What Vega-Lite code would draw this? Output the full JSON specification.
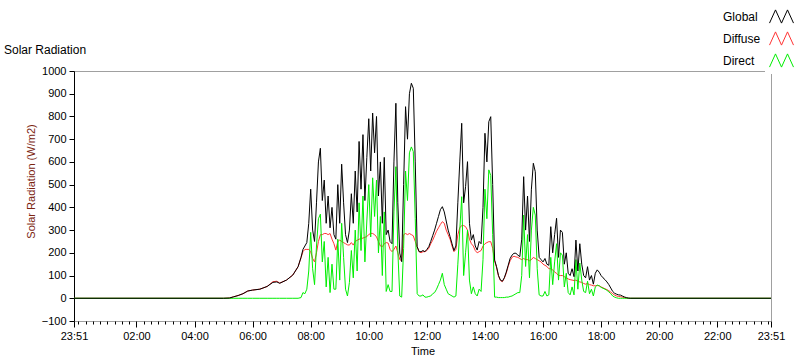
{
  "$schema": "https://vega.github.io/schema/vega-lite/v6.json",
  "width": 697,
  "height": 250,
  "autosize": {"type": "none"},
  "padding": {"left": 74, "top": 71, "right": 29, "bottom": 40},
  "background": "white",
  "title": {"text": "Solar Radiation", "anchor": "start", "frame": "group", "dx": -70, "dy": 78, "offset": 12, "baseline": "alphabetic", "fontSize": 12, "fontWeight": "normal", "font": "Liberation Sans", "color": "#000000"},
  "config": {
    "font": "Liberation Sans",
    "view": {"stroke": "#a0a0a0", "strokeWidth": 1},
    "axis": {"grid": false, "labelFont": "Liberation Sans", "labelFontSize": 11, "labelColor": "#000000", "tickColor": "#000000", "domainColor": "#000000", "titleFont": "Liberation Sans", "titleFontSize": 11, "titleFontWeight": "normal"}
  },
  "data": {
    "format": {"parse": {"t": "date:'%d %H:%M'"}},
    "values": [
      {"t":"1 23:51","Global":0,"Diffuse":0,"Direct":0},
      {"t":"2 05:00","Global":0,"Diffuse":0,"Direct":0},
      {"t":"2 05:12","Global":1,"Diffuse":1,"Direct":0},
      {"t":"2 05:20","Global":6,"Diffuse":6,"Direct":0},
      {"t":"2 05:30","Global":12,"Diffuse":12,"Direct":0},
      {"t":"2 05:40","Global":20,"Diffuse":20,"Direct":0},
      {"t":"2 05:50","Global":32,"Diffuse":32,"Direct":0},
      {"t":"2 06:00","Global":36,"Diffuse":36,"Direct":0},
      {"t":"2 06:15","Global":40,"Diffuse":40,"Direct":0},
      {"t":"2 06:30","Global":52,"Diffuse":52,"Direct":0},
      {"t":"2 06:42","Global":70,"Diffuse":73,"Direct":0},
      {"t":"2 06:50","Global":72,"Diffuse":75,"Direct":0},
      {"t":"2 06:56","Global":66,"Diffuse":67,"Direct":0},
      {"t":"2 07:10","Global":80,"Diffuse":80,"Direct":0},
      {"t":"2 07:23","Global":102,"Diffuse":102,"Direct":0},
      {"t":"2 07:34","Global":139,"Diffuse":139,"Direct":0},
      {"t":"2 07:40","Global":180,"Diffuse":178,"Direct":3},
      {"t":"2 07:44","Global":215,"Diffuse":205,"Direct":25},
      {"t":"2 07:48","Global":230,"Diffuse":215,"Direct":20},
      {"t":"2 07:52","Global":245,"Diffuse":215,"Direct":40},
      {"t":"2 07:56","Global":330,"Diffuse":215,"Direct":120},
      {"t":"2 08:00","Global":480,"Diffuse":205,"Direct":290},
      {"t":"2 08:04","Global":300,"Diffuse":175,"Direct":130},
      {"t":"2 08:08","Global":250,"Diffuse":160,"Direct":60},
      {"t":"2 08:12","Global":420,"Diffuse":200,"Direct":230},
      {"t":"2 08:16","Global":600,"Diffuse":250,"Direct":350},
      {"t":"2 08:20","Global":660,"Diffuse":280,"Direct":370},
      {"t":"2 08:24","Global":430,"Diffuse":280,"Direct":160},
      {"t":"2 08:28","Global":520,"Diffuse":285,"Direct":250},
      {"t":"2 08:32","Global":330,"Diffuse":285,"Direct":50},
      {"t":"2 08:36","Global":450,"Diffuse":280,"Direct":180},
      {"t":"2 08:40","Global":310,"Diffuse":285,"Direct":25},
      {"t":"2 08:44","Global":400,"Diffuse":260,"Direct":150},
      {"t":"2 08:48","Global":280,"Diffuse":240,"Direct":40},
      {"t":"2 08:52","Global":260,"Diffuse":212,"Direct":40},
      {"t":"2 08:56","Global":500,"Diffuse":250,"Direct":260},
      {"t":"2 09:00","Global":330,"Diffuse":256,"Direct":80},
      {"t":"2 09:04","Global":590,"Diffuse":250,"Direct":330},
      {"t":"2 09:08","Global":420,"Diffuse":245,"Direct":180},
      {"t":"2 09:12","Global":280,"Diffuse":240,"Direct":40},
      {"t":"2 09:16","Global":245,"Diffuse":235,"Direct":10},
      {"t":"2 09:20","Global":300,"Diffuse":234,"Direct":70},
      {"t":"2 09:24","Global":460,"Diffuse":245,"Direct":210},
      {"t":"2 09:28","Global":330,"Diffuse":234,"Direct":90},
      {"t":"2 09:32","Global":560,"Diffuse":250,"Direct":300},
      {"t":"2 09:36","Global":380,"Diffuse":255,"Direct":120},
      {"t":"2 09:40","Global":690,"Diffuse":260,"Direct":420},
      {"t":"2 09:44","Global":480,"Diffuse":262,"Direct":210},
      {"t":"2 09:48","Global":720,"Diffuse":265,"Direct":450},
      {"t":"2 09:52","Global":430,"Diffuse":268,"Direct":160},
      {"t":"2 09:56","Global":620,"Diffuse":272,"Direct":340},
      {"t":"2 10:00","Global":790,"Diffuse":280,"Direct":500},
      {"t":"2 10:04","Global":560,"Diffuse":286,"Direct":270},
      {"t":"2 10:08","Global":815,"Diffuse":285,"Direct":530},
      {"t":"2 10:12","Global":640,"Diffuse":280,"Direct":360},
      {"t":"2 10:16","Global":800,"Diffuse":270,"Direct":520},
      {"t":"2 10:20","Global":450,"Diffuse":250,"Direct":200},
      {"t":"2 10:24","Global":600,"Diffuse":230,"Direct":360},
      {"t":"2 10:28","Global":330,"Diffuse":227,"Direct":100},
      {"t":"2 10:32","Global":620,"Diffuse":240,"Direct":380},
      {"t":"2 10:36","Global":280,"Diffuse":245,"Direct":30},
      {"t":"2 10:40","Global":300,"Diffuse":243,"Direct":60},
      {"t":"2 10:44","Global":250,"Diffuse":215,"Direct":30},
      {"t":"2 10:48","Global":240,"Diffuse":205,"Direct":30},
      {"t":"2 10:52","Global":600,"Diffuse":215,"Direct":380},
      {"t":"2 10:56","Global":858,"Diffuse":230,"Direct":579},
      {"t":"2 11:00","Global":420,"Diffuse":200,"Direct":210},
      {"t":"2 11:04","Global":199,"Diffuse":170,"Direct":10},
      {"t":"2 11:08","Global":161,"Diffuse":165,"Direct":5},
      {"t":"2 11:12","Global":500,"Diffuse":280,"Direct":220},
      {"t":"2 11:16","Global":843,"Diffuse":285,"Direct":560},
      {"t":"2 11:20","Global":700,"Diffuse":280,"Direct":430},
      {"t":"2 11:24","Global":900,"Diffuse":285,"Direct":640},
      {"t":"2 11:28","Global":946,"Diffuse":280,"Direct":666},
      {"t":"2 11:32","Global":924,"Diffuse":275,"Direct":645},
      {"t":"2 11:36","Global":600,"Diffuse":250,"Direct":350},
      {"t":"2 11:40","Global":227,"Diffuse":225,"Direct":20},
      {"t":"2 11:44","Global":205,"Diffuse":205,"Direct":10},
      {"t":"2 11:48","Global":205,"Diffuse":200,"Direct":10},
      {"t":"2 11:52","Global":210,"Diffuse":205,"Direct":15},
      {"t":"2 11:56","Global":205,"Diffuse":205,"Direct":5},
      {"t":"2 12:00","Global":215,"Diffuse":210,"Direct":5},
      {"t":"2 12:04","Global":227,"Diffuse":220,"Direct":8},
      {"t":"2 12:08","Global":250,"Diffuse":240,"Direct":10},
      {"t":"2 12:12","Global":275,"Diffuse":255,"Direct":20},
      {"t":"2 12:16","Global":300,"Diffuse":275,"Direct":25},
      {"t":"2 12:20","Global":330,"Diffuse":295,"Direct":40},
      {"t":"2 12:24","Global":360,"Diffuse":310,"Direct":60},
      {"t":"2 12:28","Global":390,"Diffuse":325,"Direct":80},
      {"t":"2 12:32","Global":403,"Diffuse":337,"Direct":110},
      {"t":"2 12:36","Global":380,"Diffuse":330,"Direct":60},
      {"t":"2 12:40","Global":340,"Diffuse":300,"Direct":40},
      {"t":"2 12:44","Global":300,"Diffuse":280,"Direct":20},
      {"t":"2 12:48","Global":271,"Diffuse":260,"Direct":15},
      {"t":"2 12:52","Global":240,"Diffuse":230,"Direct":10},
      {"t":"2 12:56","Global":210,"Diffuse":205,"Direct":5},
      {"t":"2 13:00","Global":230,"Diffuse":215,"Direct":10},
      {"t":"2 13:04","Global":420,"Diffuse":280,"Direct":150},
      {"t":"2 13:08","Global":600,"Diffuse":310,"Direct":300},
      {"t":"2 13:12","Global":770,"Diffuse":320,"Direct":447},
      {"t":"2 13:16","Global":420,"Diffuse":320,"Direct":100},
      {"t":"2 13:20","Global":491,"Diffuse":315,"Direct":200},
      {"t":"2 13:24","Global":601,"Diffuse":300,"Direct":300},
      {"t":"2 13:28","Global":330,"Diffuse":260,"Direct":80},
      {"t":"2 13:32","Global":256,"Diffuse":240,"Direct":20},
      {"t":"2 13:36","Global":280,"Diffuse":230,"Direct":50},
      {"t":"2 13:40","Global":230,"Diffuse":210,"Direct":20},
      {"t":"2 13:44","Global":212,"Diffuse":200,"Direct":10},
      {"t":"2 13:48","Global":250,"Diffuse":205,"Direct":40},
      {"t":"2 13:52","Global":240,"Diffuse":210,"Direct":30},
      {"t":"2 13:56","Global":400,"Diffuse":230,"Direct":170},
      {"t":"2 14:00","Global":726,"Diffuse":240,"Direct":480},
      {"t":"2 14:04","Global":600,"Diffuse":245,"Direct":350},
      {"t":"2 14:08","Global":777,"Diffuse":249,"Direct":565},
      {"t":"2 14:12","Global":799,"Diffuse":249,"Direct":540},
      {"t":"2 14:16","Global":500,"Diffuse":220,"Direct":280},
      {"t":"2 14:20","Global":168,"Diffuse":165,"Direct":5},
      {"t":"2 14:24","Global":139,"Diffuse":135,"Direct":5},
      {"t":"2 14:28","Global":100,"Diffuse":98,"Direct":3},
      {"t":"2 14:32","Global":80,"Diffuse":78,"Direct":3},
      {"t":"2 14:36","Global":75,"Diffuse":73,"Direct":3},
      {"t":"2 14:40","Global":90,"Diffuse":88,"Direct":3},
      {"t":"2 14:44","Global":115,"Diffuse":110,"Direct":5},
      {"t":"2 14:48","Global":145,"Diffuse":140,"Direct":5},
      {"t":"2 14:52","Global":175,"Diffuse":165,"Direct":8},
      {"t":"2 14:56","Global":190,"Diffuse":180,"Direct":10},
      {"t":"2 15:00","Global":198,"Diffuse":185,"Direct":15},
      {"t":"2 15:04","Global":198,"Diffuse":182,"Direct":20},
      {"t":"2 15:08","Global":190,"Diffuse":180,"Direct":25},
      {"t":"2 15:12","Global":183,"Diffuse":175,"Direct":25},
      {"t":"2 15:16","Global":260,"Diffuse":170,"Direct":100},
      {"t":"2 15:20","Global":535,"Diffuse":175,"Direct":366},
      {"t":"2 15:24","Global":300,"Diffuse":170,"Direct":140},
      {"t":"2 15:28","Global":450,"Diffuse":170,"Direct":280},
      {"t":"2 15:32","Global":250,"Diffuse":165,"Direct":90},
      {"t":"2 15:36","Global":480,"Diffuse":170,"Direct":300},
      {"t":"2 15:40","Global":594,"Diffuse":180,"Direct":400},
      {"t":"2 15:44","Global":557,"Diffuse":175,"Direct":366},
      {"t":"2 15:48","Global":300,"Diffuse":170,"Direct":130},
      {"t":"2 15:52","Global":180,"Diffuse":165,"Direct":15},
      {"t":"2 15:56","Global":170,"Diffuse":160,"Direct":10},
      {"t":"2 16:00","Global":160,"Diffuse":150,"Direct":10},
      {"t":"2 16:04","Global":175,"Diffuse":145,"Direct":30},
      {"t":"2 16:08","Global":150,"Diffuse":140,"Direct":10},
      {"t":"2 16:12","Global":145,"Diffuse":130,"Direct":15},
      {"t":"2 16:16","Global":315,"Diffuse":130,"Direct":180},
      {"t":"2 16:20","Global":200,"Diffuse":125,"Direct":60},
      {"t":"2 16:24","Global":280,"Diffuse":115,"Direct":160},
      {"t":"2 16:28","Global":352,"Diffuse":110,"Direct":240},
      {"t":"2 16:32","Global":180,"Diffuse":100,"Direct":80},
      {"t":"2 16:36","Global":300,"Diffuse":100,"Direct":200},
      {"t":"2 16:40","Global":290,"Diffuse":100,"Direct":190},
      {"t":"2 16:44","Global":150,"Diffuse":95,"Direct":50},
      {"t":"2 16:48","Global":200,"Diffuse":90,"Direct":110},
      {"t":"2 16:52","Global":110,"Diffuse":85,"Direct":25},
      {"t":"2 16:56","Global":100,"Diffuse":82,"Direct":15},
      {"t":"2 17:00","Global":130,"Diffuse":80,"Direct":50},
      {"t":"2 17:04","Global":95,"Diffuse":78,"Direct":15},
      {"t":"2 17:08","Global":256,"Diffuse":80,"Direct":170},
      {"t":"2 17:12","Global":120,"Diffuse":75,"Direct":40},
      {"t":"2 17:16","Global":240,"Diffuse":72,"Direct":155},
      {"t":"2 17:20","Global":150,"Diffuse":70,"Direct":80},
      {"t":"2 17:24","Global":100,"Diffuse":65,"Direct":30},
      {"t":"2 17:28","Global":90,"Diffuse":62,"Direct":25},
      {"t":"2 17:32","Global":139,"Diffuse":65,"Direct":75},
      {"t":"2 17:36","Global":80,"Diffuse":60,"Direct":20},
      {"t":"2 17:40","Global":100,"Diffuse":58,"Direct":40},
      {"t":"2 17:44","Global":62,"Diffuse":55,"Direct":10},
      {"t":"2 17:48","Global":110,"Diffuse":55,"Direct":50},
      {"t":"2 17:52","Global":125,"Diffuse":56,"Direct":58},
      {"t":"2 17:56","Global":115,"Diffuse":55,"Direct":55},
      {"t":"2 18:00","Global":100,"Diffuse":50,"Direct":48},
      {"t":"2 18:04","Global":90,"Diffuse":46,"Direct":44},
      {"t":"2 18:08","Global":82,"Diffuse":42,"Direct":40},
      {"t":"2 18:12","Global":72,"Diffuse":38,"Direct":35},
      {"t":"2 18:16","Global":60,"Diffuse":33,"Direct":28},
      {"t":"2 18:20","Global":45,"Diffuse":27,"Direct":20},
      {"t":"2 18:24","Global":30,"Diffuse":20,"Direct":10},
      {"t":"2 18:28","Global":22,"Diffuse":14,"Direct":5},
      {"t":"2 18:32","Global":18,"Diffuse":10,"Direct":2},
      {"t":"2 18:36","Global":15,"Diffuse":8,"Direct":0},
      {"t":"2 18:40","Global":14,"Diffuse":7,"Direct":0},
      {"t":"2 18:44","Global":10,"Diffuse":5,"Direct":0},
      {"t":"2 18:48","Global":6,"Diffuse":3,"Direct":0},
      {"t":"2 18:52","Global":3,"Diffuse":1,"Direct":0},
      {"t":"2 18:56","Global":1,"Diffuse":0,"Direct":0},
      {"t":"2 19:00","Global":0,"Diffuse":0,"Direct":0},
      {"t":"2 23:51","Global":0,"Diffuse":0,"Direct":0}
    ]
  },
  "transform": [{"fold": ["Global", "Diffuse", "Direct"], "as": ["series", "value"]}],
  "encoding": {
    "x": {"field": "t", "type": "temporal",
      "scale": {"domain": [{"year":1900,"month":1,"date":1,"hours":23,"minutes":51},{"year":1900,"month":1,"date":2,"hours":23,"minutes":51}], "nice": false},
      "axis": {"orient": "bottom", "domain": false, "labelPadding": 3, "labelFlush": false, "labelOverlap": false,
        "labelExpr": "(minutes(datum.value) == 51 || (minutes(datum.value) == 0 && hours(datum.value) % 2 == 0 && hours(datum.value) > 0)) ? timeFormat(datum.value, '%H:%M') : ''",
        "tickSize": {"condition": {"test": "minutes(datum.value) == 51 || (minutes(datum.value) == 0 && hours(datum.value) % 2 == 0 && hours(datum.value) > 0)", "value": 6}, "value": 3},
        "title": "Time", "titlePadding": 4,
        "values": [
          {"year":1900,"date":1,"hours":23,"minutes":51},
          {"year":1900,"date":2,"hours":0,"minutes":0},{"year":1900,"date":2,"hours":0,"minutes":15},{"year":1900,"date":2,"hours":0,"minutes":30},{"year":1900,"date":2,"hours":0,"minutes":45},
          {"year":1900,"date":2,"hours":1,"minutes":0},{"year":1900,"date":2,"hours":1,"minutes":15},{"year":1900,"date":2,"hours":1,"minutes":30},{"year":1900,"date":2,"hours":1,"minutes":45},
          {"year":1900,"date":2,"hours":2,"minutes":0},{"year":1900,"date":2,"hours":2,"minutes":15},{"year":1900,"date":2,"hours":2,"minutes":30},{"year":1900,"date":2,"hours":2,"minutes":45},
          {"year":1900,"date":2,"hours":3,"minutes":0},{"year":1900,"date":2,"hours":3,"minutes":15},{"year":1900,"date":2,"hours":3,"minutes":30},{"year":1900,"date":2,"hours":3,"minutes":45},
          {"year":1900,"date":2,"hours":4,"minutes":0},{"year":1900,"date":2,"hours":4,"minutes":15},{"year":1900,"date":2,"hours":4,"minutes":30},{"year":1900,"date":2,"hours":4,"minutes":45},
          {"year":1900,"date":2,"hours":5,"minutes":0},{"year":1900,"date":2,"hours":5,"minutes":15},{"year":1900,"date":2,"hours":5,"minutes":30},{"year":1900,"date":2,"hours":5,"minutes":45},
          {"year":1900,"date":2,"hours":6,"minutes":0},{"year":1900,"date":2,"hours":6,"minutes":15},{"year":1900,"date":2,"hours":6,"minutes":30},{"year":1900,"date":2,"hours":6,"minutes":45},
          {"year":1900,"date":2,"hours":7,"minutes":0},{"year":1900,"date":2,"hours":7,"minutes":15},{"year":1900,"date":2,"hours":7,"minutes":30},{"year":1900,"date":2,"hours":7,"minutes":45},
          {"year":1900,"date":2,"hours":8,"minutes":0},{"year":1900,"date":2,"hours":8,"minutes":15},{"year":1900,"date":2,"hours":8,"minutes":30},{"year":1900,"date":2,"hours":8,"minutes":45},
          {"year":1900,"date":2,"hours":9,"minutes":0},{"year":1900,"date":2,"hours":9,"minutes":15},{"year":1900,"date":2,"hours":9,"minutes":30},{"year":1900,"date":2,"hours":9,"minutes":45},
          {"year":1900,"date":2,"hours":10,"minutes":0},{"year":1900,"date":2,"hours":10,"minutes":15},{"year":1900,"date":2,"hours":10,"minutes":30},{"year":1900,"date":2,"hours":10,"minutes":45},
          {"year":1900,"date":2,"hours":11,"minutes":0},{"year":1900,"date":2,"hours":11,"minutes":15},{"year":1900,"date":2,"hours":11,"minutes":30},{"year":1900,"date":2,"hours":11,"minutes":45},
          {"year":1900,"date":2,"hours":12,"minutes":0},{"year":1900,"date":2,"hours":12,"minutes":15},{"year":1900,"date":2,"hours":12,"minutes":30},{"year":1900,"date":2,"hours":12,"minutes":45},
          {"year":1900,"date":2,"hours":13,"minutes":0},{"year":1900,"date":2,"hours":13,"minutes":15},{"year":1900,"date":2,"hours":13,"minutes":30},{"year":1900,"date":2,"hours":13,"minutes":45},
          {"year":1900,"date":2,"hours":14,"minutes":0},{"year":1900,"date":2,"hours":14,"minutes":15},{"year":1900,"date":2,"hours":14,"minutes":30},{"year":1900,"date":2,"hours":14,"minutes":45},
          {"year":1900,"date":2,"hours":15,"minutes":0},{"year":1900,"date":2,"hours":15,"minutes":15},{"year":1900,"date":2,"hours":15,"minutes":30},{"year":1900,"date":2,"hours":15,"minutes":45},
          {"year":1900,"date":2,"hours":16,"minutes":0},{"year":1900,"date":2,"hours":16,"minutes":15},{"year":1900,"date":2,"hours":16,"minutes":30},{"year":1900,"date":2,"hours":16,"minutes":45},
          {"year":1900,"date":2,"hours":17,"minutes":0},{"year":1900,"date":2,"hours":17,"minutes":15},{"year":1900,"date":2,"hours":17,"minutes":30},{"year":1900,"date":2,"hours":17,"minutes":45},
          {"year":1900,"date":2,"hours":18,"minutes":0},{"year":1900,"date":2,"hours":18,"minutes":15},{"year":1900,"date":2,"hours":18,"minutes":30},{"year":1900,"date":2,"hours":18,"minutes":45},
          {"year":1900,"date":2,"hours":19,"minutes":0},{"year":1900,"date":2,"hours":19,"minutes":15},{"year":1900,"date":2,"hours":19,"minutes":30},{"year":1900,"date":2,"hours":19,"minutes":45},
          {"year":1900,"date":2,"hours":20,"minutes":0},{"year":1900,"date":2,"hours":20,"minutes":15},{"year":1900,"date":2,"hours":20,"minutes":30},{"year":1900,"date":2,"hours":20,"minutes":45},
          {"year":1900,"date":2,"hours":21,"minutes":0},{"year":1900,"date":2,"hours":21,"minutes":15},{"year":1900,"date":2,"hours":21,"minutes":30},{"year":1900,"date":2,"hours":21,"minutes":45},
          {"year":1900,"date":2,"hours":22,"minutes":0},{"year":1900,"date":2,"hours":22,"minutes":15},{"year":1900,"date":2,"hours":22,"minutes":30},{"year":1900,"date":2,"hours":22,"minutes":45},
          {"year":1900,"date":2,"hours":23,"minutes":0},{"year":1900,"date":2,"hours":23,"minutes":15},{"year":1900,"date":2,"hours":23,"minutes":30},{"year":1900,"date":2,"hours":23,"minutes":45},
          {"year":1900,"date":2,"hours":23,"minutes":51}
        ]}},
    "y": {"field": "value", "type": "quantitative",
      "scale": {"domain": [-100, 1000], "nice": false, "zero": false},
      "axis": {"values": [-100,0,100,200,300,400,500,600,700,800,900,1000], "format": "d", "labelOverlap": false, "labelFlush": false, "tickSize": 5, "labelPadding": 3, "title": "Solar Radiation (W/m2)", "titleColor": "#7b2410", "titleX": -43, "titleY": 110, "titleAngle": -90, "titleAlign": "center", "titleBaseline": "middle"}},
    "color": {"field": "series", "type": "nominal",
      "scale": {"domain": ["Global", "Diffuse", "Direct"], "range": ["#000000", "#ff3333", "#00ee00"]},
      "legend": {"orient": "none", "legendX": 691, "legendY": -71, "title": null, "direction": "vertical",
        "symbolType": "M-1,0.55L-0.5,-0.55L0,0.55L0.5,-0.55L1,0.55", "symbolSize": 576, "symbolStrokeWidth": 1,
        "labelFontSize": 12, "labelFont": "Liberation Sans", "labelColor": "#000000", "labelOffset": -71, "labelAlign": "left",
        "rowPadding": 0, "padding": 4, "fillColor": "white"}}
  },
  "layer": [
    {"transform": [{"filter": "datum.series == 'Diffuse'"}], "mark": {"type": "line", "strokeWidth": 1}},
    {"transform": [{"filter": "datum.series == 'Direct'"}], "mark": {"type": "line", "strokeWidth": 1}},
    {"transform": [{"filter": "datum.series == 'Global'"}], "mark": {"type": "line", "strokeWidth": 1}}
  ]
}
